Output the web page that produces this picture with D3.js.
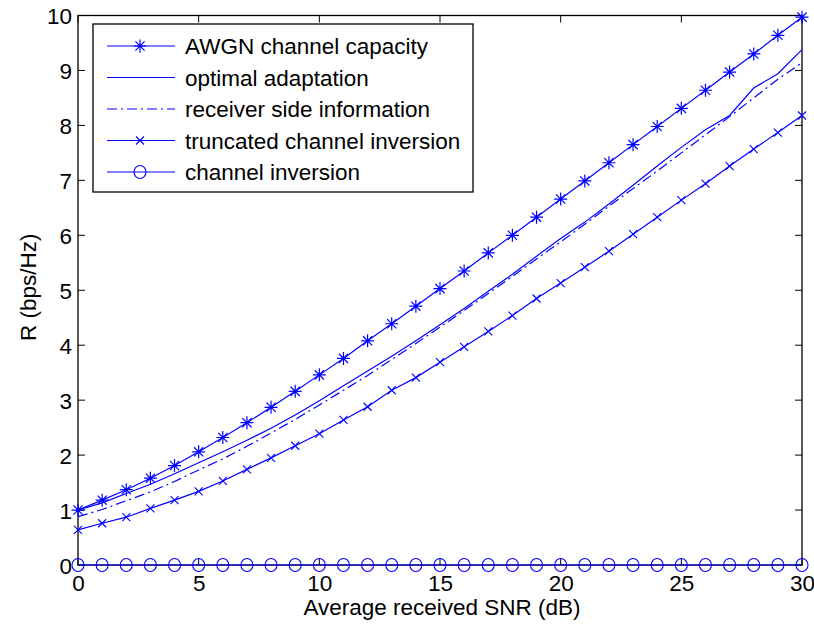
<!DOCTYPE html>
<html>
<head>
<meta charset="utf-8">
<script src="https://cdn.jsdelivr.net/npm/d3@7"></script>
<style>
	body { margin: 0; background: #fff; }
	svg text { font-family: "Liberation Sans", Arial, Helvetica, sans-serif; fill: #000; }
</style>
</head>
<body>
<svg id="chart" width="814" height="625"></svg>
<script>
// average received SNR in dB
var snr = [0, 1, 2, 3, 4, 5, 6, 7, 8, 9, 10, 11, 12, 13, 14, 15, 16, 17, 18, 19, 20,
	21, 22, 23, 24, 25, 26, 27, 28, 29, 30];

var awgnCapacity = [1.00, 1.18, 1.37, 1.58, 1.81, 2.06, 2.32, 2.59, 2.87, 3.16, 3.46,
	3.76, 4.08, 4.39, 4.71, 5.03, 5.35, 5.68, 6.00, 6.33, 6.66,
	6.99, 7.32, 7.65, 7.98, 8.31, 8.64, 8.97, 9.30, 9.64, 9.97];

var optimalAdaptation = [1.00, 1.13, 1.30, 1.47, 1.66, 1.86, 2.06, 2.27, 2.49, 2.73, 2.99,
	3.26, 3.53, 3.80, 4.08, 4.37, 4.67, 4.98, 5.29, 5.62, 5.94,
	6.24, 6.57, 6.91, 7.26, 7.60, 7.92, 8.18, 8.68, 8.94, 9.38];

var receiverSideInfo = [0.88, 1.01, 1.17, 1.33, 1.52, 1.73, 1.93, 2.16, 2.40, 2.65, 2.91,
	3.18, 3.45, 3.74, 4.03, 4.33, 4.63, 4.94, 5.25, 5.57, 5.88,
	6.20, 6.53, 6.85, 7.17, 7.50, 7.83, 8.16, 8.50, 8.84, 9.14];

var truncatedInversion = [0.64, 0.76, 0.87, 1.03, 1.18, 1.34, 1.53, 1.74, 1.95, 2.17, 2.39,
	2.64, 2.88, 3.18, 3.41, 3.69, 3.97, 4.25, 4.54, 4.85, 5.13,
	5.42, 5.71, 6.02, 6.33, 6.64, 6.94, 7.26, 7.57, 7.87, 8.18];

var channelInversion = [0, 0, 0, 0, 0, 0, 0, 0, 0, 0, 0,
	0, 0, 0, 0, 0, 0, 0, 0, 0, 0,
	0, 0, 0, 0, 0, 0, 0, 0, 0, 0];

var seriesNames = ['AWGN channel capacity', 'optimal adaptation', 'receiver side information',
	'truncated channel inversion', 'channel inversion'];
var xTicks = [0, 5, 10, 15, 20, 25, 30];
var yTicks = [0, 1, 2, 3, 4, 5, 6, 7, 8, 9, 10];

(function() {
	var svg = d3.select('#chart');
	var blue = '#0000ff';
	var fontSize = 22.5;
	var margin = { left: 78, right: 12, top: 15.5, bottom: 60 };
	var width = 814 - margin.left - margin.right;
	var height = 625 - margin.top - margin.bottom;

	var x = d3.scaleLinear().domain([0, 30]).range([0, width]);
	var y = d3.scaleLinear().domain([0, 10]).range([height, 0]);

	var g = svg.append('g')
		.attr('transform', 'translate(' + margin.left + ',' + margin.top + ')');

	// matlab style box, ticks pointing inwards on all sides
	var tick = 7;
	var xAxis = d3.axisBottom(x).tickValues(xTicks).tickSize(0).tickPadding(10);
	var yAxis = d3.axisLeft(y).tickValues(yTicks).tickSize(0).tickPadding(6);

	g.append('g').attr('transform', 'translate(0,' + height + ')').call(xAxis)
		.call(function(a) { a.select('.domain').remove(); })
		.selectAll('text').attr('font-size', fontSize).attr('dy', '0.71em');
	g.append('g').call(yAxis)
		.call(function(a) { a.select('.domain').remove(); })
		.selectAll('text').attr('font-size', fontSize).attr('dy', '0.36em');

	var ticks = g.append('g').attr('stroke', '#000').attr('stroke-width', 1);
	xTicks.forEach(function(t) {
		ticks.append('line').attr('x1', x(t)).attr('x2', x(t)).attr('y1', height).attr('y2', height - tick);
		ticks.append('line').attr('x1', x(t)).attr('x2', x(t)).attr('y1', 0).attr('y2', tick);
	});
	yTicks.forEach(function(t) {
		ticks.append('line').attr('x1', 0).attr('x2', tick).attr('y1', y(t)).attr('y2', y(t));
		ticks.append('line').attr('x1', width).attr('x2', width - tick).attr('y1', y(t)).attr('y2', y(t));
	});

	g.append('rect')
		.attr('width', width).attr('height', height)
		.attr('fill', 'none').attr('stroke', '#000').attr('stroke-width', 1.3);

	g.append('text')
		.attr('x', width / 2 + 2).attr('y', height + 50)
		.attr('text-anchor', 'middle').attr('font-size', fontSize)
		.text('Average received SNR (dB)');
	g.append('text')
		.attr('transform', 'translate(' + (28 - margin.left) + ',' + (height / 2 - 3) + ') rotate(-90)')
		.attr('text-anchor', 'middle').attr('font-size', fontSize)
		.attr('dy', '0.36em')
		.text('R (bps/Hz)');

	var series = [
		{ name: seriesNames[0], values: awgnCapacity, dash: null, marker: 'star' },
		{ name: seriesNames[1], values: optimalAdaptation, dash: null, marker: null },
		{ name: seriesNames[2], values: receiverSideInfo, dash: '10,4,2,4', marker: null },
		{ name: seriesNames[3], values: truncatedInversion, dash: null, marker: 'cross' },
		{ name: seriesNames[4], values: channelInversion, dash: null, marker: 'circle' }
	];

	var line = d3.line()
		.x(function(d, i) { return x(snr[i]); })
		.y(function(d) { return y(d); });

	function drawMarker(sel, kind, cx, cy) {
		if (kind === 'star') {
			var s = 6.5, d = 4.6;
			sel.append('path')
				.attr('d', 'M' + (cx - s) + ',' + cy + 'H' + (cx + s) +
					'M' + cx + ',' + (cy - s) + 'V' + (cy + s) +
					'M' + (cx - d) + ',' + (cy - d) + 'L' + (cx + d) + ',' + (cy + d) +
					'M' + (cx - d) + ',' + (cy + d) + 'L' + (cx + d) + ',' + (cy - d))
				.attr('stroke', blue).attr('stroke-width', 1.2).attr('fill', 'none');
		} else if (kind === 'cross') {
			var c = 4;
			sel.append('path')
				.attr('d', 'M' + (cx - c) + ',' + (cy - c) + 'L' + (cx + c) + ',' + (cy + c) +
					'M' + (cx - c) + ',' + (cy + c) + 'L' + (cx + c) + ',' + (cy - c))
				.attr('stroke', blue).attr('stroke-width', 1.1).attr('fill', 'none');
		} else if (kind === 'circle') {
			sel.append('ellipse')
				.attr('cx', cx).attr('cy', cy).attr('rx', 6).attr('ry', 6.5)
				.attr('stroke', blue).attr('stroke-width', 1.1).attr('fill', 'none');
		}
	}

	series.forEach(function(s) {
		g.append('path')
			.datum(s.values)
			.attr('d', line)
			.attr('fill', 'none')
			.attr('stroke', blue)
			.attr('stroke-width', 1.2)
			.attr('stroke-dasharray', s.dash);
		if (s.marker) {
			var mg = g.append('g');
			s.values.forEach(function(v, i) {
				drawMarker(mg, s.marker, x(snr[i]), y(v));
			});
		}
	});

	// legend
	var lg = svg.append('g').attr('transform', 'translate(93,24)');
	lg.append('rect')
		.attr('width', 380).attr('height', 168)
		.attr('fill', '#fff').attr('stroke', '#000').attr('stroke-width', 1.3);
	series.forEach(function(s, i) {
		var ly = 22 + i * 31.5;
		lg.append('line')
			.attr('x1', 14).attr('x2', 82).attr('y1', ly).attr('y2', ly)
			.attr('stroke', blue).attr('stroke-width', 1.2)
			.attr('stroke-dasharray', s.dash);
		if (s.marker) drawMarker(lg, s.marker, 47, ly);
		lg.append('text')
			.attr('x', 92).attr('y', ly).attr('dy', '0.36em')
			.attr('font-size', fontSize)
			.text(s.name);
	});
})();
</script>
</body>
</html>
